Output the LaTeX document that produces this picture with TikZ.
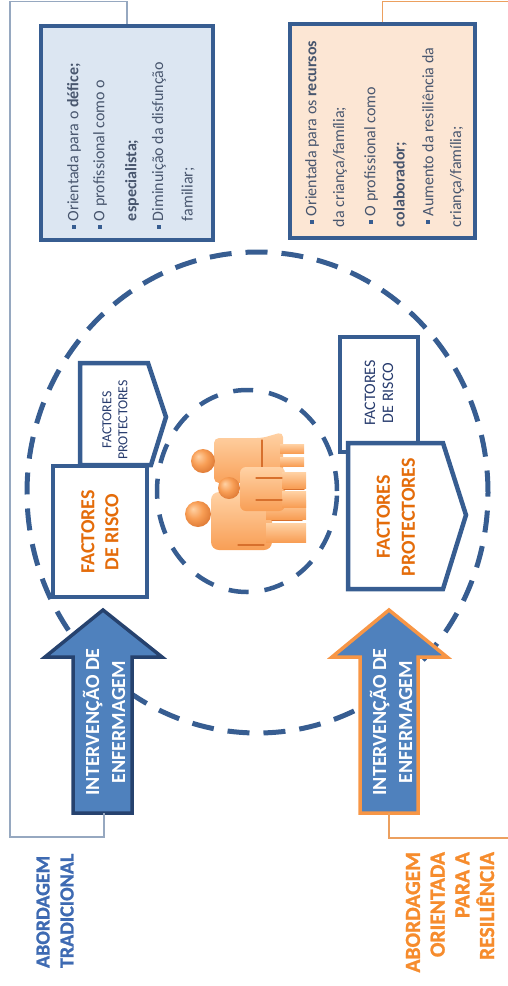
\documentclass[tikz,border=0pt]{standalone}
\usepackage{fontspec}
\setmainfont{Carlito}
\newfontface\heavyface[FakeBold=1.2]{Carlito Bold}
\usetikzlibrary{shapes.geometric}

\definecolor{lineblue}{RGB}{55,93,145}
\definecolor{arrowfill}{RGB}{79,129,189}
\definecolor{arrowedge}{RGB}{38,66,110}
\definecolor{accent}{RGB}{247,150,70}
\definecolor{factext}{RGB}{228,108,10}
\definecolor{labelorange}{RGB}{246,140,45}
\definecolor{labelblue}{RGB}{62,106,178}
\definecolor{paleblue}{RGB}{220,230,242}
\definecolor{paleorange}{RGB}{252,230,212}
\definecolor{boxtext}{RGB}{72,86,110}
\definecolor{framegrey}{RGB}{150,168,192}
\definecolor{frameorange}{RGB}{236,160,95}
\definecolor{smalltext}{RGB}{40,60,110}
\definecolor{figlight}{RGB}{255,210,165}
\definecolor{figmid}{RGB}{248,158,85}
\definecolor{figdark}{RGB}{215,112,45}

% orange sphere with its highlight up and to the left
\pgfdeclareradialshading{orangeball}{\pgfpoint{-10bp}{10bp}}{%
  color(0bp)=(figlight); color(16bp)=(figmid); color(34bp)=(figdark); color(50bp)=(figdark)}

\begin{document}
\begin{tikzpicture}[x=1pt,y=-1pt,
  rot/.style={rotate=90, inner sep=0pt, outer sep=0pt},
  ring/.style={ellipse, draw=lineblue, dash pattern=on 22pt off 14pt, inner sep=0pt},
  factorbox/.style={draw=lineblue, line width=4.5pt, fill=white, line join=miter},
  infobox/.style={draw=lineblue, line width=3.5pt, inner sep=0pt},
  bigarrow/.style={fill=arrowfill, line width=3.5pt, line join=miter},
  bul/.style={rectangle, fill=lineblue, minimum size=4.5pt, inner sep=0pt},
  bluetxt/.style={rot, anchor=west, font=\fontsize{16}{19}\selectfont, text=boxtext},
  factbig/.style={rot, align=center, font=\fontsize{20}{24}\selectfont\bfseries, text=factext},
  factsmall/.style={rot, align=center, text=smalltext},
  arrowtxt/.style={rot, align=center, font=\fontsize{20}{26}\selectfont\bfseries, text=white},
  figbody/.style={top color=figlight, bottom color=figmid, draw=none},
  head/.style={shading=orangeball},
  figline/.style={draw=figdark, line width=1.2pt, line cap=round},
]
\useasboundingbox (0,0) rectangle (507,986);

% dashed rings around the family
\node[ring, line width=5pt, minimum width=461pt, minimum height=481pt] (outer) at (257.5,492.5) {};
\node[ring, line width=4.5pt, dash pattern=on 20pt off 16pt, minimum width=180pt, minimum height=202pt] (inner) at (247,491) {};

% left side: risk box with protective pentagon
\draw[factorbox] (80,465) -- (80,363) -- (148,363) -- (166,417) -- (151,465) -- cycle;
\draw[factorbox] (53,466) rectangle (147,597);
\node[factsmall, font=\fontsize{13.8}{16}\selectfont] (protL) at (115,420) {FACTORES\\PROTECTORES};
\node[factbig] (riskL) at (100,532) {FACTORES\\DE RISCO};

% right side: small risk box behind large protective pentagon
\draw[factorbox] (340,337) rectangle (418,452);
\node[factsmall, font=\fontsize{16}{18}\selectfont] (riskR) at (379,393) {FACTORES\\DE RISCO};
\draw[factorbox] (348,589) -- (348,443) -- (443,443) -- (466,515) -- (443,589) -- cycle;
\node[factbig, font=\fontsize{20}{25}\selectfont\bfseries] (protR) at (396,517) {FACTORES\\PROTECTORES};

% family figures: mother behind, father, child in front
\shade[figbody, rounded corners=5pt] (214,438) -- (262,438) -- (283,432) -- (283,487) -- (262,483) -- (214,483) -- cycle;
\shade[figbody] (280,444) rectangle (304,453);
\shade[figbody] (280,457) rectangle (304,466);
\draw[figline] (262,440) -- (262,481);
\shade[head] (203,461) circle[radius=12pt];
\shade[figbody, rounded corners=8pt] (211,492) rectangle (272,550);
\shade[figbody] (266,500) rectangle (306,519);
\shade[figbody] (266,523) rectangle (306,542);
\draw[figline] (238,545) -- (264,545);
\draw[figline] (272,520.5) -- (302,520.5);
\shade[head] (198,514) circle[radius=13pt];
\shade[figbody, rounded corners=6pt] (240,467) rectangle (285,511);
\shade[figbody] (282,472) rectangle (306,488);
\shade[figbody] (282,491) rectangle (306,507);
\draw[figline] (256,478) -- (282,478);
\draw[figline] (256,500) -- (282,500);
\draw[figline] (284,489.5) -- (304,489.5);
\shade[head] (229,488) circle[radius=11pt];

% nursing intervention arrows
\draw[bigarrow, draw=arrowedge] (73,813) -- (73,657) -- (45,657) -- (103,610) -- (162,657) -- (132,657) -- (132,813) -- cycle;
\coordinate (arrLfoot) at (104,813);
\node[arrowtxt] (arrLtxt) at (104,722) {INTERVENÇÃO DE\\ENFERMAGEM};
\draw[bigarrow, draw=accent] (360,813) -- (360,657) -- (332,657) -- (389,610) -- (447,657) -- (418,657) -- (418,813) -- cycle;
\coordinate (arrRfoot) at (389,813);
\node[arrowtxt] (arrRtxt) at (391,722) {INTERVENÇÃO DE\\ENFERMAGEM};

% description boxes
\node[infobox, fill=paleblue, minimum width=172pt, minimum height=214pt] (boxL) at (127,133) {};
\node[infobox, fill=paleorange, minimum width=185pt, minimum height=214pt] (boxR) at (382.5,131) {};

\node[bul] (b1) at (74,227) {};
\node[bluetxt] (l1) at (74,221) {Orientada para o \textbf{défice;}};
\node[bul] (b2) at (100,227) {};
\node[bluetxt] (l2) at (100,221) {O profissional como o};
\node[bluetxt] (l3) at (132,221) {\textbf{especialista;}};
\node[bul] (b3) at (159,227) {};
\node[bluetxt] (l4) at (159,221) {Diminuição da disfunção};
\node[bluetxt] (l5) at (188,221) {familiar;};

\node[bul] (b4) at (312,222) {};
\node[bluetxt] (r1) at (312,216) {Orientada para os \textbf{recursos}};
\node[bluetxt] (r2) at (340,227) {da criança/família;};
\node[bul] (b5) at (371,222) {};
\node[bluetxt] (r3) at (371,216) {O profissional como};
\node[bluetxt] (r4) at (400,227) {\textbf{colaborador;}};
\node[bul] (b6) at (428,222) {};
\node[bluetxt] (r5) at (428,216) {Aumento da resiliência da};
\node[bluetxt] (r6) at (457,227) {criança/família;};

% frames grouping each approach
\draw[framegrey, line width=1.3pt] (arrLfoot) |- (10,837) -- (10,1.5) -| (boxL.north);
\draw[frameorange, line width=1.3pt] (arrRfoot) |- (508,838);
\draw[frameorange, line width=1.3pt] (boxR.north) |- (508,1.5);

% approach labels, set in heavy bold capitals
\node[rot, anchor=west, align=left, font=\heavyface\fontsize{20}{24}\selectfont, text=labelblue] (labL) at (55,968) {ABORDAGEM\\TRADICIONAL};
\node[rot, anchor=east, align=right, font=\heavyface\fontsize{21.5}{24.7}\selectfont, text=labelorange] (labR) at (450,852) {ABORDAGEM\\ORIENTADA\\PARA A\\RESILIÊNCIA};
\end{tikzpicture}
\end{document}
